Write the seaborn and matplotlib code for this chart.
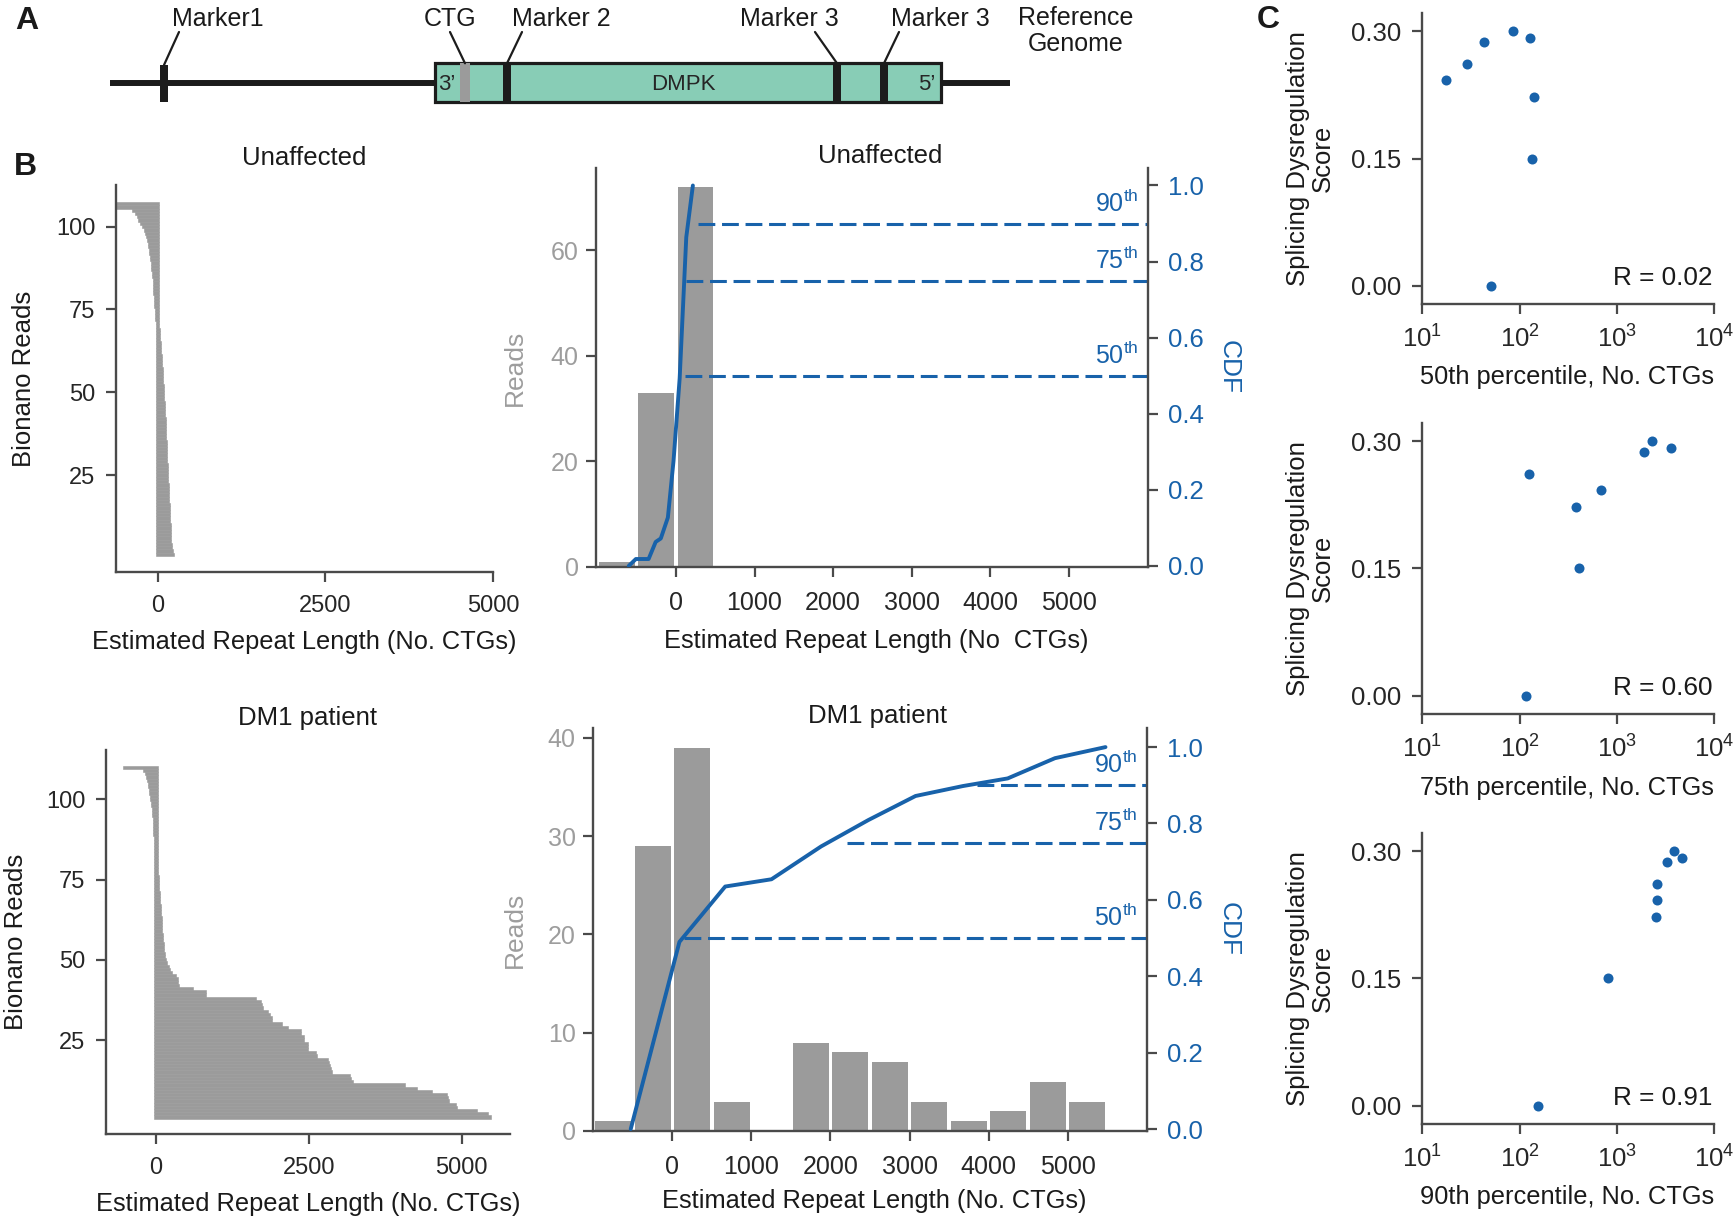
import numpy as np
import pandas as pd
import matplotlib
matplotlib.use("Agg")
import matplotlib.pyplot as plt
from matplotlib import font_manager
from matplotlib.patches import Rectangle
from matplotlib.ticker import FormatStrFormatter, NullLocator
import seaborn as sns

W, H = 1736, 1224

# ---------------- data ----------------
# A: schematic, positions along the drawn reference genome
genome_span = [110, 1010]
dmpk_span = [435, 941]
feature_names = ["Marker1", "CTG", "Marker 2", "Marker 3", "Marker 3"]
feature_pos = [164, 465, 507, 837, 884]
feature_label_x = [218, 450, 561, 789, 940]
leader_top_x = [179, 450, 522, 815, 899]

# B left: Bionano reads, estimated repeat length (No. CTGs), largest first
unaffected_reads = [
    220, 200, 190, 183, 181, 178, 176, 173, 171, 168,
    166, 163, 161, 158, 156, 153, 151, 148, 146, 143,
    141, 138, 136, 133, 131, 128, 126, 123, 121, 119,
    116, 114, 111, 109, 107, 105, 103, 101, 99, 97,
    95, 93, 91, 89, 86, 83, 80, 77, 74, 71,
    68, 65, 62, 59, 56, 53, 50, 47, 44, 40,
    36, 32, 28, 24, 20, 16, 12, 8, 4, -3,
    -6, -10, -14, -18, -21, -25, -28, -31, -34, -37,
    -40, -43, -46, -49, -55, -61, -67, -73, -79, -85,
    -92, -100, -106, -114, -125, -135, -150, -165, -185, -210,
    -235, -270, -290, -310, -350, -640, -660,
]
dm1_reads = [
    5450, 5400, 5220, 4890, 4880, 4770, 4750, 4730, 4490, 4250,
    4040, 3190, 3170, 3150, 2855, 2840, 2825, 2810, 2790, 2605,
    2600, 2465, 2462, 2460, 2400, 2395, 2345, 2340, 2130, 2035,
    1870, 1865, 1840, 1800, 1720, 1715, 1700, 1605, 795, 790,
    580, 355, 340, 330, 300, 240, 210, 195, 160, 145,
    130, 118, 108, 104, 98, 93, 88, 84, 80, 77,
    73, 69, 65, 60, 56, 52, 49, 46, 42, 39,
    36, 32, 29, 25, 22, 18, 14, 10, 6, 2,
    -1, -3, -5, -7, -9, -12, -14, -16, -18, -20,
    -22, -25, -28, -32, -36, -40, -48, -56, -64, -72,
    -79, -88, -97, -105, -114, -123, -140, -160, -180, -515,
]

# B middle: histogram (500-CTG bins) and CDF
unaff_bin_centers = [-750, -250, 250]
unaff_counts = [1, 33, 72]
dm1_bin_centers = [-750, -250, 250, 750, 1250, 1750, 2250, 2750, 3250, 3750, 4250, 4750, 5250]
dm1_counts = [1, 29, 39, 3, 0, 9, 8, 7, 3, 1, 2, 5, 3]

unaff_cdf_x = [-599, -509, -347, -257, -192, -102, -30, 48, 132, 216]
unaff_cdf_y = [0.0, 0.018, 0.018, 0.063, 0.072, 0.127, 0.276, 0.493, 0.864, 1.0]
dm1_cdf_x = [-526, 90, 669, 1254, 1882, 2479, 3076, 3674, 4241, 4839, 5478]
dm1_cdf_y = [0.0, 0.49, 0.635, 0.654, 0.740, 0.809, 0.872, 0.898, 0.918, 0.971, 1.0]

pct_levels = [0.5, 0.75, 0.9]
pct_names = ["50", "75", "90"]
unaff_pct_start = [120, 132, 287]
dm1_pct_start = [149, 2210, 3853]

# C: per-sample percentiles vs splicing score
score = [0.0, 0.15, 0.222, 0.243, 0.261, 0.287, 0.300, 0.292]
p50 = [50.6, 134, 139.4, 17.5, 28.6, 43.5, 84.7, 128.8]
p75 = [116, 405, 383.5, 689, 124.7, 1884, 2313, 3606]
p90 = [154.5, 814, 2541, 2606, 2585, 3273, 3900, 4677]
r_values = ["0.02", "0.60", "0.91"]

# ---------------- style ----------------
names = {f.name for f in font_manager.fontManager.ttflist}
SANS = "Liberation Sans" if "Liberation Sans" in names else "DejaVu Sans"
NARROW = "Liberation Sans Narrow" if "Liberation Sans Narrow" in names else SANS

sns.set_theme(style="ticks")
plt.rcParams["font.family"] = [SANS, "DejaVu Sans"]
plt.rcParams["axes.linewidth"] = 1.7
plt.rcParams["axes.edgecolor"] = "#4a4a4a"

INK = "#1c1c1c"
SPINE = "#4a4a4a"
GRAY = "#9b9b9b"
BLUE = "#1862aa"
TEAL = "#88cdb6"
TXT = "#1a1a1a"
CAP = 25  # little overhang so that reads near zero still show

fig = plt.figure(figsize=(W / 100, H / 100), dpi=100)


def box(l, t, r, b):
    return [l / W, 1 - b / H, (r - l) / W, (b - t) / H]


def ftext(x, y, s, **kw):
    kw.setdefault("ha", "center")
    kw.setdefault("va", "center")
    kw.setdefault("color", TXT)
    fig.text(x / W, 1 - y / H, s, **kw)


def ticks(ax, size, family, pad=7.5):
    ax.tick_params(direction="out", length=7.5, width=1.6, color=SPINE, labelsize=size, pad=pad)
    for lab in ax.get_xticklabels() + ax.get_yticklabels():
        lab.set_fontfamily(family)


# ---------------- A ----------------
axA = fig.add_axes([0, 1 - 110 / H, 1, 110 / H])
axA.set_xlim(0, W)
axA.set_ylim(110, 0)
axA.axis("off")
axA.plot(genome_span, [82.7, 82.7], color=INK, lw=4.3, solid_capstyle="butt", zorder=1)
axA.add_patch(Rectangle((dmpk_span[0], 63.3), dmpk_span[1] - dmpk_span[0], 38.4,
                        facecolor=TEAL, edgecolor=INK, lw=2.3, zorder=2))
for i, (name, x) in enumerate(zip(feature_names, feature_pos)):
    col = GRAY if name == "CTG" else INK
    wid = 10 if name == "CTG" else 8
    y0 = 65 if i == 0 else 63.3
    axA.add_patch(Rectangle((x - wid / 2, y0), wid, 101.7 - y0, facecolor=col,
                            edgecolor="none", zorder=3))
    axA.plot([leader_top_x[i], x], [32, y0], color=INK, lw=1.6, zorder=3)
    axA.text(feature_label_x[i], 19, name, ha="center", va="center",
             fontsize=18, fontfamily=NARROW, color=TXT)
axA.text(447, 84, "3’", ha="center", va="center", fontsize=16, fontfamily=NARROW, zorder=4)
axA.text(683, 84, "DMPK", ha="center", va="center", fontsize=16, fontfamily=NARROW, zorder=4)
axA.text(927, 84, "5’", ha="center", va="center", fontsize=16, fontfamily=NARROW, zorder=4)
axA.text(1076, 31, "Reference\nGenome", ha="center", va="center", fontsize=18,
         fontfamily=NARROW, linespacing=1.15, color=TXT)


# ---------------- B left: waterfall ----------------
def waterfall(pos, reads, xlim, ylim, xlab_y, title_y, ylab_x, title):
    ax = fig.add_axes(box(*pos))
    reads = np.asarray(reads, dtype=float)
    rank = np.arange(1, len(reads) + 1)
    left = np.minimum(reads, 0) - CAP
    ax.barh(rank, np.abs(reads) + 2 * CAP, left=left, height=1.0, color=GRAY,
            edgecolor=GRAY, linewidth=0.4)
    ax.set_xlim(*xlim)
    ax.set_ylim(*ylim)
    ax.set_xticks([0, 2500, 5000])
    ax.set_yticks([25, 50, 75, 100])
    sns.despine(ax=ax)
    ticks(ax, 17, SANS)
    ax.tick_params(axis="x", pad=9)
    cx = (pos[0] + pos[2]) / 2
    cy = (pos[1] + pos[3]) / 2
    ftext(cx, title_y, title, fontsize=18.5)
    ftext(cx, xlab_y, "Estimated Repeat Length (No. CTGs)", fontsize=18.3)
    ftext(ylab_x, cy, "Bionano Reads", fontsize=18.5, rotation=90)
    return ax


waterfall((116, 185, 493, 572), unaffected_reads, (-621, 5000), (-4.3, 112.6),
          642, 158, 24, "Unaffected")
waterfall((106, 750, 510, 1134), dm1_reads, (-818, 5790), (-4.3, 115.4),
          1204, 718, 16, "DM1 patient")


# ---------------- B middle: histogram + CDF ----------------
def hist_cdf(pos, centers, counts, brange, cx, cy, starts, xlim, ylim, y2lim, yt,
             title, xlab, title_y, xlab_y):
    ax = fig.add_axes(box(*pos))
    df = pd.DataFrame({"center": centers, "count": counts})
    sns.histplot(data=df, x="center", weights="count", binwidth=500, binrange=brange,
                 shrink=0.91, color=GRAY, alpha=1, edgecolor="none", linewidth=0, ax=ax)
    ax.set_xlim(*xlim)
    ax.set_ylim(*ylim)
    ax.set_xticks([0, 1000, 2000, 3000, 4000, 5000])
    ax.set_yticks(yt)
    ax.set_xlabel("")
    ax.set_ylabel("")
    sns.despine(ax=ax)
    ticks(ax, 18, NARROW)
    ax.tick_params(axis="x", pad=10)
    ax.tick_params(axis="y", labelcolor="#9d9d9d", pad=5)

    ax2 = ax.twinx()
    sns.lineplot(x=cx, y=cy, sort=False, estimator=None, color=BLUE, lw=2.8, ax=ax2)
    for lev, st, nm in zip(pct_levels, starts, pct_names):
        ax2.plot([st, xlim[1]], [lev, lev], color=BLUE, lw=2.2, ls=(0, (5.5, 2.2)))
        ax2.text(xlim[1] - 120, lev + 0.018, nm + r"$^{\mathdefault{th}}$", ha="right",
                 va="bottom", color=BLUE, fontsize=18, fontfamily=NARROW)
    ax2.set_ylim(*y2lim)
    ax2.set_yticks([0, 0.2, 0.4, 0.6, 0.8, 1.0])
    ax2.yaxis.set_major_formatter(FormatStrFormatter("%.1f"))
    ax2.set_ylabel("")
    for s in ["top", "left", "bottom"]:
        ax2.spines[s].set_visible(False)
    ax2.spines["right"].set_color(SPINE)
    ticks(ax2, 18.5, NARROW, pad=7)
    ax2.tick_params(axis="y", labelcolor=BLUE)

    mx = (pos[0] + pos[2]) / 2
    my = (pos[1] + pos[3]) / 2
    ftext(mx + 8, title_y, title, fontsize=18.5, fontfamily=NARROW)
    ftext(mx + 4, xlab_y, xlab, fontsize=18.3, fontfamily=NARROW)
    ftext(515, my, "Reads", fontsize=19, fontfamily=NARROW, rotation=90, color="#9d9d9d")
    ftext(1229, my, "CDF", fontsize=19, fontfamily=NARROW, rotation=270, color=BLUE)


hist_cdf((596, 168, 1148, 567), unaff_bin_centers, unaff_counts, (-1000, 500),
         unaff_cdf_x, unaff_cdf_y, unaff_pct_start,
         (-1016, 6004), (0, 75.6), (-0.003, 1.046), [0, 20, 40, 60],
         "Unaffected", "Estimated Repeat Length (No  CTGs)", 156, 641)
hist_cdf((593, 728, 1147, 1131), dm1_bin_centers, dm1_counts, (-1000, 5500),
         dm1_cdf_x, dm1_cdf_y, dm1_pct_start,
         (-1003, 6003), (0, 41), (-0.005, 1.05), [0, 10, 20, 30, 40],
         "DM1 patient", "Estimated Repeat Length (No. CTGs)", 716, 1201)

# ---------------- C: scatter ----------------
c_tops = [12.7, 422.7, 832.7]
c_bots = [304.3, 714.3, 1124.3]
c_xlab_y = [377, 788, 1197]
for pvals, lab, t, b, xy, rv in zip([p50, p75, p90], ["50th", "75th", "90th"],
                                    c_tops, c_bots, c_xlab_y, r_values):
    ax = fig.add_axes(box(1422.3, t, 1714, b))
    sns.scatterplot(x=pvals, y=score, color=BLUE, s=52, linewidth=0, ax=ax)
    ax.set_xscale("log")
    ax.set_xlim(10, 1e4)
    ax.set_ylim(-0.022, 0.322)
    ax.set_xticks([10, 100, 1000, 10000])
    ax.xaxis.set_minor_locator(NullLocator())
    ax.set_yticks([0, 0.15, 0.30])
    ax.yaxis.set_major_formatter(FormatStrFormatter("%.2f"))
    sns.despine(ax=ax)
    ticks(ax, 18.5, SANS, pad=8)
    ax.text(0.995, 0.09, "R = " + rv, transform=ax.transAxes, ha="right", va="center",
            fontsize=18.8, color=TXT)
    ftext(1566.7, xy, lab + " percentile, No. CTGs", fontsize=18.3)
    ftext(1310, (t + b) / 2, "Splicing Dysregulation\nScore", fontsize=18.5, rotation=90,
          multialignment="center", linespacing=1.05)

# panel letters
ftext(27, 21, "A", fontsize=23, fontweight="bold", fontfamily=NARROW)
ftext(25, 167, "B", fontsize=23, fontweight="bold", fontfamily=NARROW)
ftext(1268, 20, "C", fontsize=23, fontweight="bold", fontfamily=NARROW)

fig.savefig("out.png", dpi=100)
